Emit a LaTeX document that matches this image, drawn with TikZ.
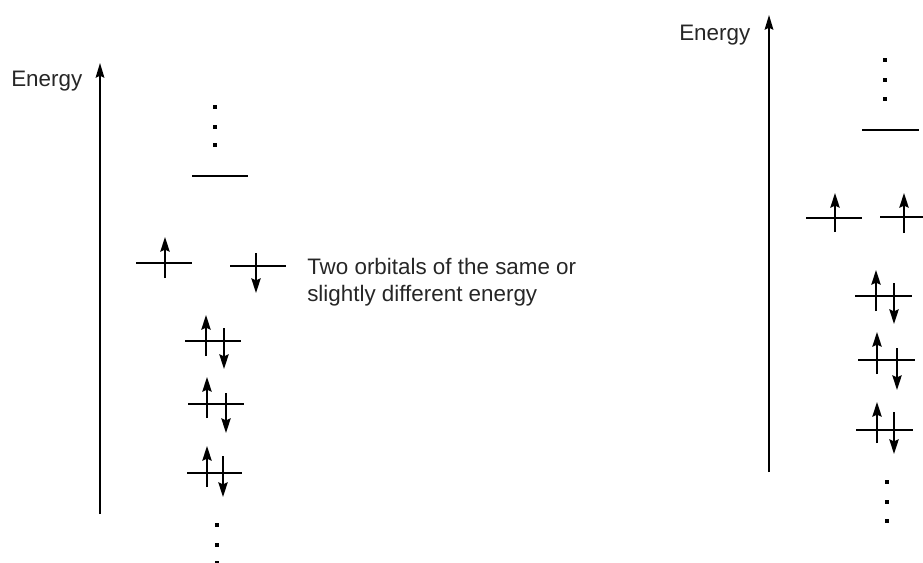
\documentclass[tikz,border=0pt]{standalone}
\usepackage{fontspec}
\setmainfont{Liberation Sans}
\usetikzlibrary{arrows.meta}
\tikzset{
  lvl/.style={line width=1.35pt},
  spin/.style={line width=1.35pt,-{Stealth[length=11pt,width=7pt,inset=1.5pt]}},
  axis/.style={line width=1.3pt,-{Stealth[length=11pt,width=6.5pt,inset=1.5pt]}},
  lbl/.style={font=\fontsize{16.8pt}{20pt}\selectfont,inner sep=0pt,anchor=base west,text=black!85},
}
\newcommand{\dotsq}[2]{\fill (#1-1.8,#2-1.8) rectangle (#1+1.8,#2+1.8);}
\begin{document}
\begin{tikzpicture}[x=0.75pt,y=-0.75pt]
\useasboundingbox (0,0) rectangle (923,563);
% ---------- left panel ----------
\node[lbl] (enL) at (11,87) {Energy};
\draw[axis] (100,514) -- (100,63);
\dotsq{215}{107}\dotsq{215}{127}\dotsq{215}{145}
\draw[lvl] (192,176) -- (248,176);
% singly occupied
\draw[lvl] (136,263) -- (192,263);
\draw[spin] (165,278) -- (165,237);
\draw[lvl] (230,266) -- (286,266);
\draw[spin] (256,253) -- (256,293);
\node[lbl] (t1) at (307,274) {Two orbitals of the same or};
\node[lbl] (t2) at (307,301.5) {slightly different energy};
% pairs
\draw[lvl] (185,341) -- (241,341);
\draw[spin] (206,356) -- (206,315);
\draw[spin] (224,328) -- (224,369);
\draw[lvl] (188,404) -- (244,404);
\draw[spin] (207,418) -- (207,377);
\draw[spin] (226,393) -- (226,433);
\draw[lvl] (187,473) -- (242,473);
\draw[spin] (207,487) -- (207,446);
\draw[spin] (223,456) -- (223,497);
\dotsq{217}{525}\dotsq{217}{545}\dotsq{217}{563}
% ---------- right panel ----------
\node[lbl] (enR) at (679,41) {Energy};
\draw[axis] (769,472) -- (769,15);
\dotsq{885}{60}\dotsq{885}{80}\dotsq{885}{99}
\draw[lvl] (862,130) -- (919,130);
\draw[lvl] (806,218) -- (862,218);
\draw[spin] (835,232) -- (835,193);
\draw[lvl] (880,217) -- (925,217);
\draw[spin] (904,233) -- (904,193);
\draw[lvl] (855,296) -- (912,296);
\draw[spin] (876,311) -- (876,270);
\draw[spin] (894,283) -- (894,324);
\draw[lvl] (858,360) -- (915,360);
\draw[spin] (877,374) -- (877,332);
\draw[spin] (897,348) -- (897,390);
\draw[lvl] (856,430) -- (913,430);
\draw[spin] (877,443) -- (877,402);
\draw[spin] (894,412) -- (894,454);
\dotsq{887}{482}\dotsq{887}{502}\dotsq{887}{521}
\end{tikzpicture}
\end{document}
